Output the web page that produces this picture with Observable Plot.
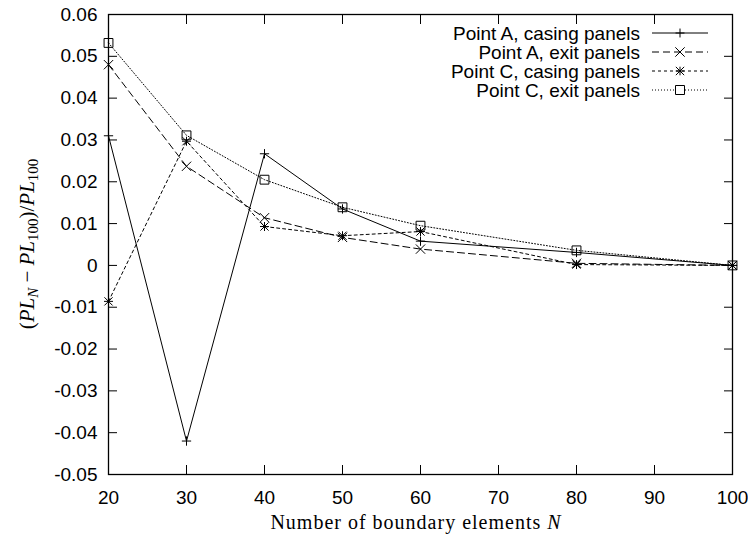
<!DOCTYPE html>
<html><head><meta charset="utf-8">
<script src="https://cdn.jsdelivr.net/npm/d3@7"></script>
<script src="https://cdn.jsdelivr.net/npm/@observablehq/plot@0.6"></script>
<style>body{margin:0;background:#fff}</style>
</head><body><div id="chart"></div>
<script>
const N = [20, 30, 40, 50, 60, 80, 100];
const seriesNames = ["Point A, casing panels", "Point A, exit panels", "Point C, casing panels", "Point C, exit panels"];
const aCasing = [0.031, -0.042, 0.0267, 0.0135, 0.0058, 0.0031, 0];
const aExit   = [0.048, 0.0237, 0.0114, 0.0067, 0.0039, 0.0005, 0];
const cCasing = [-0.0086, 0.0297, 0.0093, 0.0071, 0.0081, 0.0002, 0];
const cExit   = [0.0532, 0.0311, 0.0205, 0.0139, 0.0095, 0.0036, 0];
const xTicks = [20, 30, 40, 50, 60, 70, 80, 90, 100];
const yTicks = [-0.05, -0.04, -0.03, -0.02, -0.01, 0, 0.01, 0.02, 0.03, 0.04, 0.05, 0.06];
const yTickLabels = ["-0.05", "-0.04", "-0.03", "-0.02", "-0.01", "0", "0.01", "0.02", "0.03", "0.04", "0.05", "0.06"];

const valuesBySeries = [aCasing, aExit, cCasing, cExit];
const rows = [];
seriesNames.forEach((s, k) => N.forEach((n, i) => rows.push({series: s, n, v: valuesBySeries[k][i]})));
const of = (k) => rows.filter(d => d.series === seriesNames[k]);

const dashes = [null, "7,4", "3,3", "1,2"];
const W = 748, H = 536, mL = 108, mR = 16, mT = 14, mB = 62;

const lineMarks = seriesNames.map((s, k) =>
  Plot.line(of(k), {x: "n", y: "v", stroke: "#000", strokeWidth: 1, strokeDasharray: dashes[k] || undefined}));

const chart = Plot.plot({
  width: W, height: H, marginLeft: mL, marginRight: mR, marginTop: mT, marginBottom: mB,
  style: {fontFamily: "'Liberation Sans', Arial, sans-serif", fontSize: "19px", background: "#fff", color: "#000", overflow: "visible"},
  x: {domain: [20, 100]},
  y: {domain: [-0.05, 0.06]},
  marks: [
    Plot.axisX({anchor: "bottom", ticks: xTicks, tickSize: -9, tickPadding: 25, label: null, tickFormat: d => String(d)}),
    Plot.axisX({anchor: "top", ticks: xTicks, tickSize: -9, tickFormat: () => "", label: null}),
    Plot.axisY({anchor: "left", ticks: yTicks, tickSize: -9, tickPadding: 20, label: null,
      tickFormat: d => yTickLabels[yTicks.findIndex(t => Math.abs(t - d) < 1e-9)]}),
    Plot.axisY({anchor: "right", ticks: yTicks, tickSize: -9, tickFormat: () => "", label: null}),
    ...lineMarks,
    Plot.dot(of(0), {x: "n", y: "v", symbol: "plus", r: 3.1, stroke: "#000", strokeWidth: 1}),
    Plot.dot(of(1), {x: "n", y: "v", symbol: "times", r: 4.3, stroke: "#000", strokeWidth: 1}),
    Plot.dot(of(2), {x: "n", y: "v", symbol: "plus", r: 3.0, stroke: "#000", strokeWidth: 1}),
    Plot.dot(of(2), {x: "n", y: "v", symbol: "times", r: 3.8, stroke: "#000", strokeWidth: 1}),
    Plot.dot(of(3), {x: "n", y: "v", symbol: "square", r: 5, stroke: "#000", fill: "none", strokeWidth: 1}),
    Plot.frame({stroke: "#000", strokeWidth: 1.3})
  ]
});
document.getElementById("chart").appendChild(chart);

const svg = d3.select(chart);
// Legend
const legendSymbols = [["plus"], ["times"], ["plus", "times"], ["square"]];
const symMap = {plus: [d3.symbolPlus, 28], times: [d3.symbolTimes, 59], square: [d3.symbolSquare, 81]};
const lg = svg.append("g").attr("font-family", "'Liberation Sans', Arial, sans-serif").attr("font-size", 19);
seriesNames.forEach((s, k) => {
  const cy = 33 + k * 19;
  lg.append("text").attr("x", 640).attr("y", cy + 7).attr("text-anchor", "end").attr("fill", "#000").text(s);
  lg.append("line").attr("x1", 652).attr("x2", 708).attr("y1", cy).attr("y2", cy)
    .attr("stroke", "#000").attr("stroke-width", 1).attr("stroke-dasharray", dashes[k]);
  legendSymbols[k].forEach(sym => {
    const size = (k === 2) ? (sym === "plus" ? 26 : 47) : symMap[sym][1];
    lg.append("path").attr("transform", `translate(680,${cy})`)
      .attr("d", d3.symbol(symMap[sym][0], size)()).attr("fill", sym === "square" ? "#fff" : "none")
      .attr("stroke", "#000").attr("stroke-width", 1);
  });
});

// X axis label
const xl = svg.append("text").attr("x", 416).attr("y", 529).attr("text-anchor", "middle")
  .attr("font-family", "'Liberation Serif', 'DejaVu Serif', serif").attr("font-size", 20)
  .attr("letter-spacing", 1).attr("fill", "#000");
xl.append("tspan").text("Number of boundary elements ");
xl.append("tspan").attr("font-style", "italic").text("N");

// Y axis label
const yl = svg.append("text").attr("transform", `translate(34,${(mT + H - mB) / 2}) rotate(-90)`)
  .attr("text-anchor", "middle").attr("font-family", "'Liberation Serif', 'DejaVu Serif', serif")
  .attr("font-size", 21).attr("fill", "#000");
yl.append("tspan").text("(");
yl.append("tspan").attr("font-style", "italic").text("PL");
yl.append("tspan").attr("font-style", "italic").attr("font-size", 15).attr("dy", 4).text("N");
yl.append("tspan").attr("dy", -4).text(" \u2212 ");
yl.append("tspan").attr("font-style", "italic").text("PL");
yl.append("tspan").attr("font-size", 15).attr("dy", 4).text("100");
yl.append("tspan").attr("dy", -4).text(")/");
yl.append("tspan").attr("font-style", "italic").text("PL");
yl.append("tspan").attr("font-size", 15).attr("dy", 4).text("100");
</script>
</body></html>
